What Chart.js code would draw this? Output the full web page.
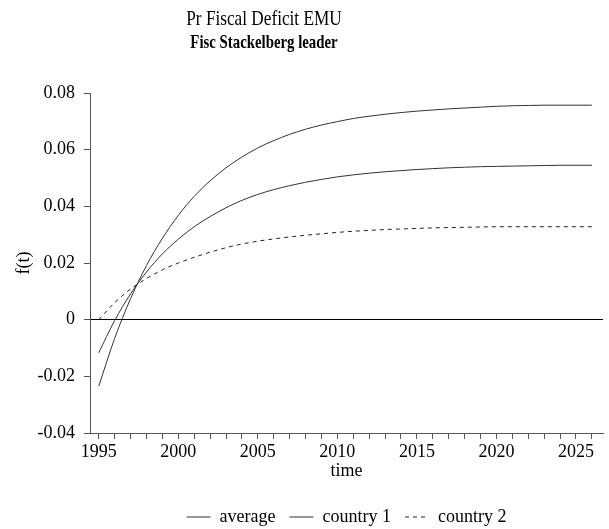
<!DOCTYPE html>
<html>
<head>
<meta charset="utf-8">
<script src="https://cdn.jsdelivr.net/npm/chart.js@4/dist/chart.umd.min.js"></script>
<style>
  body { margin: 0; background: #fff; }
  #wrap { width: 609px; height: 529px; }
</style>
</head>
<body>
<div id="wrap"><canvas id="chart" width="609" height="529"></canvas></div>
<script>
// values (one per year)
const years = [1995, 1996, 1997, 1998, 1999, 2000, 2001, 2002, 2003, 2004, 2005,
  2006, 2007, 2008, 2009, 2010, 2011, 2012, 2013, 2014, 2015, 2016, 2017, 2018,
  2019, 2020, 2021, 2022, 2023, 2024, 2025, 2026];

const average = [-0.0117, -0.0003, 0.0091, 0.0168, 0.0232, 0.0284, 0.0328, 0.0364,
  0.0395, 0.0421, 0.0442, 0.0459, 0.0473, 0.0485, 0.0495, 0.0504, 0.0511, 0.0517,
  0.0522, 0.0526, 0.0530, 0.0533, 0.0536, 0.0538, 0.0540, 0.0541, 0.0542, 0.0543,
  0.0544, 0.0545, 0.0545, 0.0545];

const country1 = [-0.0235, -0.0066, 0.0074, 0.0191, 0.0287, 0.0368, 0.0435, 0.0490,
  0.0536, 0.0574, 0.0606, 0.0632, 0.0654, 0.0672, 0.0687, 0.0699, 0.0710, 0.0718,
  0.0725, 0.0731, 0.0736, 0.0740, 0.0744, 0.0747, 0.0750, 0.0753, 0.0755, 0.0756,
  0.0757, 0.0757, 0.0757, 0.0757];

const country2 = [0.0000, 0.0060, 0.0108, 0.0145, 0.0176, 0.0200, 0.0220, 0.0238,
  0.0254, 0.0267, 0.0277, 0.0285, 0.0292, 0.0298, 0.0303, 0.0308, 0.0312, 0.0315,
  0.0318, 0.0320, 0.0322, 0.0324, 0.0325, 0.0326, 0.0327, 0.0328, 0.0328, 0.0328,
  0.0328, 0.0328, 0.0328, 0.0328];

const yTicks = [-0.04, -0.02, 0, 0.02, 0.04, 0.06, 0.08];
const xLabelEvery = 5;

const titleText = 'Pr Fiscal Deficit EMU';
const subtitleText = 'Fisc Stackelberg leader';

const serif = "'Liberation Serif', 'Times New Roman', serif";

function toPoints(values) {
  return years.map((yr, i) => ({ x: yr, y: values[i] }));
}

// the reference titles are set in a narrow face, off-centre to the left
const headingPlugin = {
  id: 'heading',
  afterDraw(chart) {
    const c = chart.ctx;
    c.save();
    c.fillStyle = '#000';
    c.textAlign = 'center';
    c.textBaseline = 'alphabetic';

    c.save();
    c.translate(264, 25);
    c.scale(0.82, 1);
    c.font = 'normal 21px ' + serif;
    c.fillText(titleText, 0, 0);
    c.restore();

    c.save();
    c.translate(264, 48);
    c.scale(0.78, 1);
    c.font = 'bold 19px ' + serif;
    c.fillText(subtitleText, 0, 0);
    c.restore();

    c.restore();
  }
};

const ctx = document.getElementById('chart').getContext('2d');
new Chart(ctx, {
  type: 'line',
  data: {
    datasets: [
      {
        label: 'average',
        data: toPoints(average),
        borderColor: '#333',
        borderWidth: 1,
        pointRadius: 0,
        cubicInterpolationMode: 'monotone'
      },
      {
        label: 'country 1',
        data: toPoints(country1),
        borderColor: '#333',
        borderWidth: 1,
        pointRadius: 0,
        cubicInterpolationMode: 'monotone'
      },
      {
        label: 'country 2',
        data: toPoints(country2),
        borderColor: '#222',
        borderWidth: 1,
        borderDash: [4, 4],
        pointRadius: 0,
        cubicInterpolationMode: 'monotone'
      }
    ]
  },
  options: {
    responsive: false,
    animation: false,
    // negative bottom padding: the legend keeps some space of its own below the items
    layout: { padding: { left: 0, right: 6, top: 93, bottom: -7 } },
    plugins: {
      title: { display: false },
      legend: {
        position: 'bottom',
        fullSize: false,
        labels: {
          color: '#000',
          font: { family: serif, size: 18 },
          usePointStyle: true,
          pointStyleWidth: 24,
          boxHeight: 10,
          padding: 14,
          generateLabels: function(chart) {
            return chart.data.datasets.map((ds, i) => ({
              text: ds.label,
              strokeStyle: ds.borderColor,
              fillStyle: ds.borderColor,
              lineWidth: 1,
              lineDash: ds.borderDash || [],
              pointStyle: 'line',
              fontColor: '#000',
              hidden: false,
              datasetIndex: i
            }));
          }
        }
      },
      tooltip: { enabled: false }
    },
    scales: {
      x: {
        type: 'linear',
        min: 1994.45,
        max: 2026.7,
        afterFit: scale => { scale.height = 61; },
        border: { display: true, color: '#555', width: 1 },
        grid: { drawOnChartArea: false, tickLength: 6, tickColor: '#555' },
        ticks: {
          stepSize: 1,
          includeBounds: false,
          autoSkip: false,
          maxRotation: 0,
          padding: 2,
          color: '#000',
          font: { family: serif, size: 18 },
          callback: v => (v % xLabelEvery === 0 ? String(v) : '')
        },
        title: {
          display: true,
          text: 'time',
          color: '#000',
          font: { family: serif, size: 18 },
          padding: { top: 0, bottom: 12 }
        }
      },
      y: {
        min: -0.04,
        max: 0.08,
        afterFit: scale => { scale.width = 90; },
        afterBuildTicks: scale => { scale.ticks = yTicks.map(v => ({ value: v })); },
        border: { display: true, color: '#555', width: 1 },
        grid: {
          drawOnChartArea: true,
          tickLength: 6,
          tickColor: '#555',
          color: c => (c.tick && c.tick.value === 0 ? '#000' : 'rgba(0,0,0,0)')
        },
        ticks: {
          padding: 9,
          color: '#000',
          font: { family: serif, size: 18 },
          callback: v => String(Math.round(v * 100) / 100)
        },
        title: {
          display: true,
          text: 'f(t)',
          color: '#000',
          font: { family: serif, size: 18 },
          padding: { top: 13, bottom: 0 }
        }
      }
    }
  },
  plugins: [headingPlugin]
});
</script>
</body>
</html>
